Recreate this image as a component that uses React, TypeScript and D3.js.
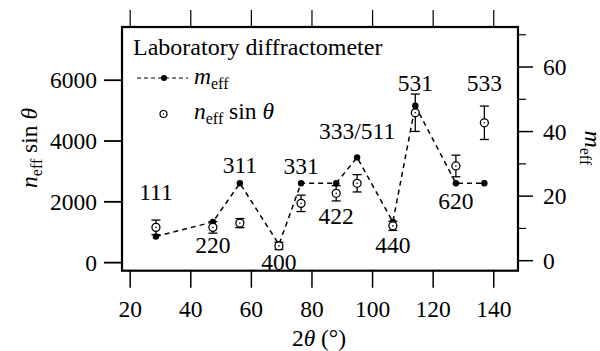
import React from "react";
import * as d3 from "d3";

// reflections (Si), 2theta positions
const hkl = ["111", "220", "311", "400", "331", "422", "333/511", "440", "531", "620", "533"];
const twoTheta = [28.5, 47.3, 56.2, 69.1, 76.4, 88.0, 94.9, 106.7, 114.1, 127.5, 136.9];
const mEff = [7.5, 12, 24, 5, 24, 24, 32, 12, 48, 24, 24];
const nSin = [1160, 1160, 1300, 550, 1950, 2280, 2610, 1210, 4930, 3180, 4600];
const nSinErr = [240, 190, 150, 120, 270, 250, 285, 150, 615, 355, 550];
// label placement relative to the m_eff dot (px)
const labelDy = [-36, 31, -10, 25, -9, 41, -18, 31, -15, 26, -92];

const xTicks = [20, 40, 60, 80, 100, 120, 140];
const yLeftTicks = [0, 2000, 4000, 6000];
const yRightMajor = [0, 20, 40, 60];
const yRightMinor = [10, 30, 50, 70];

const W = 600;
const H = 351;
const L = 122, R = 518, T = 27, B = 270.7;
const FONT = "'Times New Roman', 'Liberation Serif', serif";

function Txt(props: any) {
  const { size = 23.5, children, ...rest } = props;
  return (
    <text style={{ fontFamily: FONT, fontSize: size }} {...rest}>
      {children}
    </text>
  );
}

export default function App() {
  const x = d3.scaleLinear().domain([17.3, 148]).range([L, R]);
  const yL = d3.scaleLinear().domain([-265, 7750]).range([B, T]);
  const yR = d3.scaleLinear().domain([-3.1, 72.4]).range([B, T]);

  const line = d3
    .line<number>()
    .x((_, i) => x(twoTheta[i]))
    .y((d) => yR(d));

  const sub = 16;

  return (
    <svg width={W} height={H} style={{ position: "absolute", left: 0, top: 0, fontFamily: FONT }}>
      {/* ticks */}
      {xTicks.map((t) => (
        <g key={"x" + t}>
          <line x1={x(t)} x2={x(t)} y1={B} y2={B + 17} stroke="#000" strokeWidth={1.5} />
          <line x1={x(t)} x2={x(t)} y1={T} y2={T - 17} stroke="#000" strokeWidth={1.2} />
          <Txt x={x(t)} y={316.5} textAnchor="middle">{t}</Txt>
        </g>
      ))}
      {yLeftTicks.map((t) => (
        <g key={"yl" + t}>
          <line x1={L} x2={L - 18} y1={yL(t)} y2={yL(t)} stroke="#000" strokeWidth={1.8} />
          <Txt x={97} y={yL(t)} dy="0.34em" textAnchor="end">{t}</Txt>
        </g>
      ))}
      {yRightMajor.map((t) => (
        <g key={"yr" + t}>
          <line x1={R} x2={R + 15} y1={yR(t)} y2={yR(t)} stroke="#000" strokeWidth={1.5} />
          <Txt x={543} y={yR(t)} dy="0.34em" textAnchor="start">{t}</Txt>
        </g>
      ))}
      {yRightMinor.map((t) => (
        <line key={"yrm" + t} x1={R} x2={R + 8} y1={yR(t)} y2={yR(t)} stroke="#000" strokeWidth={1.2} />
      ))}

      {/* frame */}
      <rect x={L} y={T} width={R - L} height={B - T} fill="none" stroke="#000" strokeWidth={2.2} />

      {/* axis titles */}
      <Txt x={319} y={346} textAnchor="middle">
        2<tspan fontStyle="italic">θ</tspan> (°)
      </Txt>
      <Txt transform="translate(37,148) rotate(-90)" textAnchor="middle">
        <tspan fontStyle="italic">n</tspan>
        <tspan fontSize={sub} dy={5}>eff</tspan>
        <tspan dy={-5}> sin </tspan>
        <tspan fontStyle="italic">θ</tspan>
      </Txt>
      <Txt transform="translate(585,148) rotate(90)" textAnchor="middle">
        <tspan fontStyle="italic">m</tspan>
        <tspan fontSize={sub} dy={5}>eff</tspan>
      </Txt>

      {/* m_eff dashed line */}
      <path d={line(mEff) ?? ""} fill="none" stroke="#000" strokeWidth={1.5} strokeDasharray="5,4" />
      {mEff.map((m, i) => (
        <circle key={"m" + i} cx={x(twoTheta[i])} cy={yR(m)} r={3.2} fill="#000" />
      ))}

      {/* n_eff sin theta with error bars */}
      {nSin.map((v, i) => {
        const cx = x(twoTheta[i]);
        const y1 = yL(v + nSinErr[i]);
        const y2 = yL(v - nSinErr[i]);
        return (
          <g key={"n" + i} stroke="#000" strokeWidth={1.3}>
            <line x1={cx} x2={cx} y1={y1} y2={y2} />
            <line x1={cx - 4.5} x2={cx + 4.5} y1={y1} y2={y1} />
            <line x1={cx - 4.5} x2={cx + 4.5} y1={y2} y2={y2} />
            <circle cx={cx} cy={yL(v)} r={4} fill="#fff" />
            <circle cx={cx} cy={yL(v)} r={0.8} fill="#000" stroke="none" />
          </g>
        );
      })}

      {/* reflection labels */}
      {hkl.map((h, i) => (
        <Txt key={"h" + i} x={x(twoTheta[i])} y={yR(mEff[i]) + labelDy[i]} textAnchor="middle">
          {h}
        </Txt>
      ))}

      {/* legend */}
      <Txt size={24} x={133} y={55}>Laboratory diffractometer</Txt>
      <line x1={137} x2={188} y1={78} y2={78} stroke="#555" strokeWidth={1.3} strokeDasharray="4,3" />
      <circle cx={164} cy={78} r={3} fill="#000" />
      <Txt x={194} y={84}>
        <tspan fontStyle="italic">m</tspan>
        <tspan fontSize={sub} dy={5}>eff</tspan>
      </Txt>
      <circle cx={163.5} cy={114} r={3.5} fill="#fff" stroke="#000" strokeWidth={1.2} />
      <circle cx={163.5} cy={114} r={0.7} fill="#000" />
      <Txt x={194} y={119}>
        <tspan fontStyle="italic">n</tspan>
        <tspan fontSize={sub} dy={5}>eff</tspan>
        <tspan dy={-5}> sin </tspan>
        <tspan fontStyle="italic">θ</tspan>
      </Txt>
    </svg>
  );
}
